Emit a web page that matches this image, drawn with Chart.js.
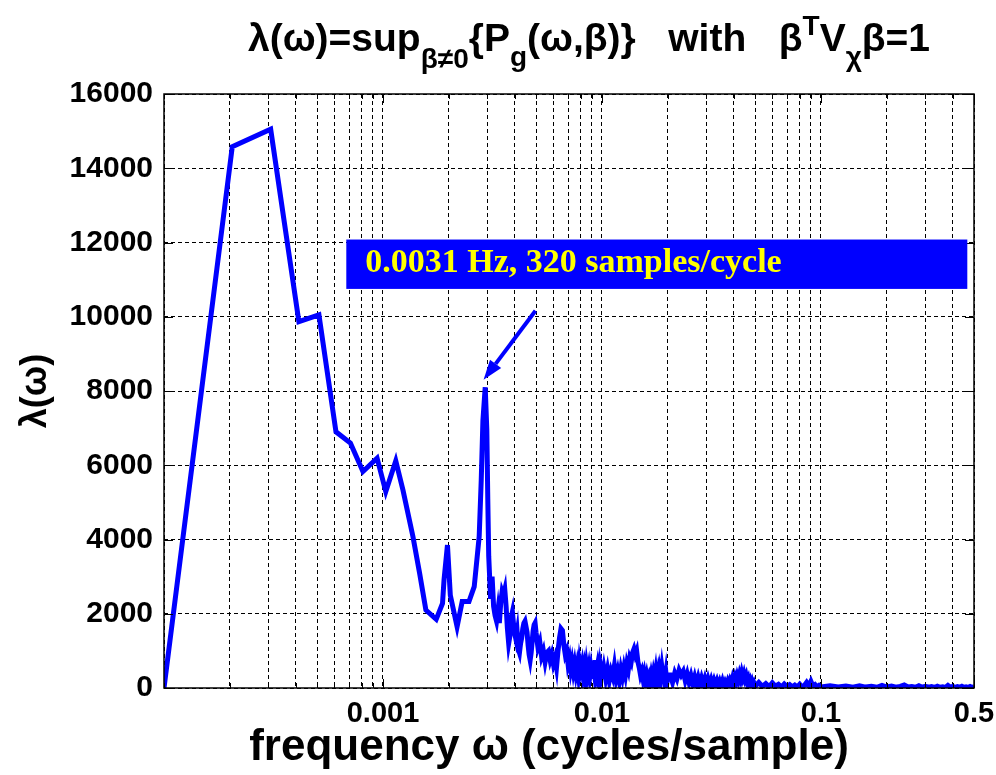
<!DOCTYPE html>
<html>
<head>
<meta charset="utf-8">
<script src="https://cdn.jsdelivr.net/npm/chart.js@4.4.0/dist/chart.umd.min.js"></script>
<style>
  html, body { margin: 0; padding: 0; background: #fff; }
</style>
</head>
<body>
<canvas id="chart" width="996" height="775"></canvas>
<script>
// --- data (frequency in cycles/sample, lambda) ---
var freqLow = [0.0001, 0.000205, 0.000307, 0.000413, 0.00051, 0.00061, 0.00071, 0.00081, 0.00094, 0.00103,
  0.001144, 0.001234, 0.00137, 0.00147, 0.00157, 0.00175, 0.00187, 0.0019, 0.00197, 0.00203,
  0.00218, 0.0023, 0.00247, 0.00261, 0.00275, 0.00281, 0.00286, 0.00293, 0.00298, 0.00301, 0.00304];
var lamLow = [0, 14580, 15050, 9870, 10050, 6900, 6600, 5830, 6190, 5290,
  6120, 5330, 4080, 3090, 2100, 1850, 2280, 2910, 3850, 2500,
  1650, 2330, 2330, 2730, 4080, 5600, 7200, 8100, 6950, 5100, 3550];

var freqA = [0.0031, 0.00315, 0.0032, 0.00325, 0.0033, 0.00335, 0.0034, 0.00345, 0.0035, 0.00355,
  0.0036, 0.00365, 0.0037, 0.00375, 0.0038, 0.00385, 0.0039, 0.00395, 0.004, 0.00405,
  0.0041, 0.00415, 0.0042, 0.00425, 0.0043, 0.00435, 0.0044, 0.00445, 0.0045, 0.00455,
  0.0046, 0.00465, 0.0047, 0.00475, 0.0048, 0.00485, 0.0049, 0.00495, 0.005];
var lamA = [2400, 3000, 2200, 1950, 1800, 2100, 1750, 2300, 2600, 2500,
  2650, 2200, 1600, 1200, 1400, 1900, 2050, 1700, 1450, 1300,
  1500, 1050, 950, 1200, 1350, 1600, 1750, 1800, 1650, 1500,
  1150, 900, 750, 950, 1250, 1550, 1700, 1750, 1500];

var freqB = [0.0051, 0.0052, 0.0053, 0.0054, 0.0055, 0.0056, 0.0057, 0.0058, 0.0059, 0.006,
  0.0061, 0.0062, 0.0063, 0.0064, 0.0065, 0.0066, 0.0067, 0.0068, 0.0069, 0.007,
  0.0071, 0.0072, 0.0073, 0.0074, 0.0075, 0.0076, 0.0077, 0.0078, 0.0079, 0.008,
  0.0081, 0.0082, 0.0083, 0.0084, 0.0085, 0.0086, 0.0087, 0.0088, 0.0089, 0.009,
  0.0091, 0.0092, 0.0093, 0.0094, 0.0095, 0.0096, 0.0097, 0.0098, 0.0099, 0.01];
var lamB = [1100, 1250, 850, 1000, 700, 950, 1000, 750, 900, 650,
  800, 550, 1000, 1350, 1600, 1550, 1150, 900, 1000, 650,
  800, 500, 700, 450, 650, 400, 600, 350, 700, 500,
  650, 350, 550, 300, 600, 380, 550, 300, 500, 250,
  700, 480, 750, 400, 550, 280, 500, 220, 450, 250];

var freqC = [0.0102, 0.0104, 0.0106, 0.0108, 0.011, 0.0112, 0.0114, 0.0116, 0.0118, 0.012,
  0.0122, 0.0124, 0.0126, 0.0128, 0.013, 0.0132, 0.0134, 0.0136, 0.0138, 0.014,
  0.0142, 0.0144, 0.0146, 0.0148, 0.015, 0.0152, 0.0154, 0.0156, 0.0158, 0.016,
  0.0162, 0.0164, 0.0166, 0.0168, 0.017, 0.0172, 0.0174, 0.0176, 0.0178, 0.018,
  0.0182, 0.0184, 0.0186, 0.0188, 0.019, 0.0192, 0.0194, 0.0196, 0.0198, 0.02];
var lamC = [550, 250, 500, 200, 450, 300, 600, 250, 450, 200,
  500, 300, 550, 350, 650, 500, 800, 700, 950, 1050,
  900, 1000, 700, 550, 350, 450, 250, 400, 200, 350,
  180, 300, 150, 350, 200, 400, 250, 450, 200, 380,
  150, 450, 300, 550, 350, 500, 200, 400, 150, 350];

var freqD = [0.0205, 0.021, 0.0215, 0.022, 0.0225, 0.023, 0.0235, 0.024, 0.0245, 0.025,
  0.0255, 0.026, 0.0265, 0.027, 0.0275, 0.028, 0.0285, 0.029, 0.0295, 0.03,
  0.0305, 0.031, 0.0315, 0.032, 0.0325, 0.033, 0.0335, 0.034, 0.0345, 0.035,
  0.0355, 0.036, 0.0365, 0.037, 0.0375, 0.038, 0.0385, 0.039, 0.0395, 0.04,
  0.0405, 0.041, 0.0415, 0.042, 0.0425, 0.043, 0.0435, 0.044, 0.0445, 0.045,
  0.0455, 0.046, 0.0465, 0.047, 0.0475, 0.048, 0.0485, 0.049, 0.0495, 0.05];
var lamD = [350, 150, 400, 250, 480, 350, 450, 200, 380, 150,
  330, 120, 300, 100, 280, 90, 260, 100, 250, 80,
  240, 90, 220, 70, 200, 80, 190, 60, 170, 60,
  180, 50, 150, 60, 170, 70, 200, 120, 260, 150,
  280, 170, 320, 220, 360, 250, 400, 280, 380, 250,
  330, 180, 250, 100, 180, 60, 150, 50, 120, 40];

var freqE = [0.052, 0.054, 0.056, 0.058, 0.06, 0.062, 0.064, 0.066, 0.068, 0.07,
  0.072, 0.074, 0.076, 0.078, 0.08, 0.082, 0.084, 0.086, 0.088, 0.09,
  0.092, 0.094, 0.096, 0.098, 0.1];
var lamE = [150, 40, 120, 30, 140, 50, 100, 30, 110, 40,
  90, 30, 80, 30, 100, 30, 70, 150, 60, 180,
  50, 90, 30, 70, 30];

var freqF = [0.11, 0.12, 0.13, 0.14, 0.15, 0.16, 0.17, 0.18, 0.19, 0.2,
  0.21, 0.22, 0.23, 0.24, 0.25, 0.26, 0.27, 0.28, 0.29, 0.3,
  0.31, 0.32, 0.33, 0.34, 0.35, 0.36, 0.37, 0.38, 0.39, 0.4,
  0.41, 0.42, 0.43, 0.44, 0.45, 0.46, 0.47, 0.48, 0.49, 0.5];
var lamF = [60, 25, 55, 20, 60, 25, 45, 20, 70, 25,
  50, 20, 45, 80, 25, 40, 20, 60, 20, 45,
  20, 40, 15, 50, 20, 35, 15, 70, 20, 40,
  15, 35, 20, 45, 15, 30, 15, 40, 20, 30];

var xTickValues = [0.001, 0.01, 0.1, 0.5];
var xTickText = ['0.001', '0.01', '0.1', '0.5'];
var yTickStep = 2000;
var xTitle = 'frequency ω (cycles/sample)';

var freq = freqLow.concat(freqA, freqB, freqC, freqD, freqE, freqF);
var lambda = lamLow.concat(lamA, lamB, lamC, lamD, lamE, lamF);

// annotation (data units)
var noteText = '0.0031 Hz, 320 samples/cycle';
var noteBox = { x0: 0.00068, x1: 0.466, y0: 10750, y1: 12080 };
var noteTextAt = { x: 0.00083, y: 11200 };
var arrowFrom = { x: 0.00497, y: 10160 };
var arrowTo = { x: 0.00288, y: 8300 };

var points = [];
for (var i = 0; i < freq.length; i++) {
  points.push({ x: freq[i], y: lambda[i] });
}

var xMin = 0.0001, xMax = 0.5;

// grid lines at every 1..9 x 10^n inside the range
var xGrid = [];
for (var e = -4; e <= -1; e++) {
  for (var m = 1; m <= 9; m++) {
    var v = m * Math.pow(10, e);
    if (v >= xMin * 0.999 && v <= xMax * 1.001) xGrid.push(v);
  }
}

function labelFor(value) {
  for (var k = 0; k < xTickValues.length; k++) {
    if (Math.abs(value - xTickValues[k]) / xTickValues[k] < 1e-6) return xTickText[k];
  }
  return '';
}

Chart.defaults.font.family = '"Liberation Sans", Arial, sans-serif';
Chart.defaults.color = '#000';

var titlePlugin = {
  id: 'mathTitle',
  afterDraw: function (chart) {
    var ctx = chart.ctx;
    var main = 'bold 39px "Liberation Sans", Arial, sans-serif';
    var small = 'bold 28px "Liberation Sans", Arial, sans-serif';
    var parts = [
      { t: 'λ(ω)=sup', f: main, dy: 0 },
      { t: 'β≠0', f: small, dy: 17 },
      { t: '{P', f: main, dy: 0 },
      { t: 'g', f: small, dy: 15 },
      { t: '(ω,β)}   with   β', f: main, dy: 0 },
      { t: 'T', f: small, dy: -16 },
      { t: 'V', f: main, dy: 0 },
      { t: 'χ', f: small, dy: 15 },
      { t: 'β=1', f: main, dy: 0 }
    ];
    ctx.save();
    var total = 0;
    parts.forEach(function (p) { ctx.font = p.f; p.w = ctx.measureText(p.t).width; total += p.w; });
    var x = 589 - total / 2, base = 51;
    ctx.fillStyle = '#000';
    ctx.textBaseline = 'alphabetic';
    parts.forEach(function (p) {
      ctx.font = p.f;
      ctx.fillText(p.t, x, base + p.dy);
      x += p.w;
    });

    // x axis title, a little left of the plot centre as in the original
    ctx.font = 'bold 44px "Liberation Sans", Arial, sans-serif';
    ctx.textAlign = 'center';
    ctx.fillText(xTitle, 549, 760);
    ctx.restore();
  }
};

var framePlugin = {
  id: 'frame',
  afterDraw: function (chart) {
    var ctx = chart.ctx, a = chart.chartArea;
    var xs = chart.scales.x, ys = chart.scales.y;
    ctx.save();
    // inner tick marks
    ctx.strokeStyle = '#000';
    ctx.lineWidth = 1;
    ctx.beginPath();
    xs.ticks.forEach(function (t) {
      var px = Math.round(xs.getPixelForValue(t.value)) + 0.5;
      var len = labelFor(t.value) ? 9 : 5;
      ctx.moveTo(px, a.bottom); ctx.lineTo(px, a.bottom - len);
      ctx.moveTo(px, a.top); ctx.lineTo(px, a.top + len);
    });
    ys.ticks.forEach(function (t) {
      var py = Math.round(ys.getPixelForValue(t.value)) + 0.5;
      ctx.moveTo(a.left, py); ctx.lineTo(a.left + 9, py);
      ctx.moveTo(a.right, py); ctx.lineTo(a.right - 9, py);
    });
    ctx.stroke();
    // box
    ctx.lineWidth = 1.5;
    ctx.strokeRect(a.left, a.top, a.right - a.left, a.bottom - a.top);

    // annotation box
    var bx0 = xs.getPixelForValue(noteBox.x0), bx1 = xs.getPixelForValue(noteBox.x1);
    var by0 = ys.getPixelForValue(noteBox.y1), by1 = ys.getPixelForValue(noteBox.y0);
    ctx.fillStyle = '#0000ff';
    ctx.fillRect(bx0, by0, bx1 - bx0, by1 - by0);
    ctx.fillStyle = '#ffff00';
    ctx.font = 'bold 34px "Liberation Serif", "Times New Roman", serif';
    ctx.textBaseline = 'alphabetic';
    ctx.fillText(noteText, xs.getPixelForValue(noteTextAt.x), ys.getPixelForValue(noteTextAt.y));

    // arrow
    var ax0 = xs.getPixelForValue(arrowFrom.x), ay0 = ys.getPixelForValue(arrowFrom.y);
    var ax1 = xs.getPixelForValue(arrowTo.x), ay1 = ys.getPixelForValue(arrowTo.y);
    var ang = Math.atan2(ay1 - ay0, ax1 - ax0);
    var head = 20, half = 7;
    var bxh = ax1 - head * Math.cos(ang), byh = ay1 - head * Math.sin(ang);
    ctx.strokeStyle = '#0000ff';
    ctx.lineWidth = 4;
    ctx.beginPath();
    ctx.moveTo(ax0, ay0); ctx.lineTo(bxh, byh);
    ctx.stroke();
    ctx.fillStyle = '#0000ff';
    ctx.beginPath();
    ctx.moveTo(ax1, ay1);
    ctx.lineTo(bxh + half * Math.sin(ang), byh - half * Math.cos(ang));
    ctx.lineTo(bxh - half * Math.sin(ang), byh + half * Math.cos(ang));
    ctx.closePath();
    ctx.fill();
    ctx.restore();
  }
};

new Chart(document.getElementById('chart'), {
  type: 'line',
  data: {
    datasets: [{
      data: points,
      borderColor: '#0000ff',
      borderWidth: 5,
      pointRadius: 0,
      tension: 0,
      fill: false
    }]
  },
  options: {
    responsive: false,
    animation: false,
    layout: { padding: { top: 94, right: 22, bottom: 0, left: 0 } },
    plugins: { legend: { display: false }, tooltip: { enabled: false } },
    scales: {
      x: {
        type: 'logarithmic',
        min: xMin,
        max: xMax,
        afterBuildTicks: function (scale) {
          scale.ticks = xGrid.map(function (v) { return { value: v }; });
        },
        afterFit: function (scale) {
          scale.height = 87;
          scale.paddingLeft = 0;
          scale.paddingRight = 0;
        },
        grid: { color: '#000', lineWidth: 1, drawTicks: false },
        border: { display: false, dash: [4, 3] },
        ticks: {
          autoSkip: false,
          maxRotation: 0,
          padding: 9,
          font: { size: 29, weight: 'bold' },
          callback: function (value) { return labelFor(value); }
        },
        title: { display: false }
      },
      y: {
        min: 0,
        max: 16000,
        afterFit: function (scale) { scale.width = 164; },
        grid: { color: '#000', lineWidth: 1, drawTicks: false },
        border: { display: false, dash: [4, 3] },
        ticks: {
          stepSize: yTickStep,
          padding: 11,
          font: { size: 30, weight: 'bold' },
          callback: function (value) { return String(value); }
        },
        title: {
          display: true,
          text: 'λ(ω)',
          font: { size: 36, weight: 'bold' },
          padding: { top: 14, bottom: 0 }
        }
      }
    }
  },
  plugins: [titlePlugin, framePlugin]
});
</script>
</body>
</html>
